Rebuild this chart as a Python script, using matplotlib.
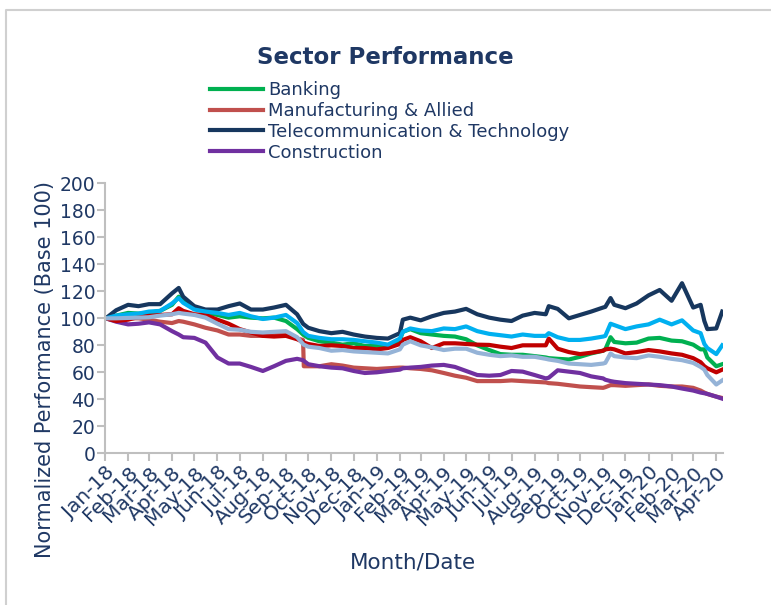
import numpy as np
import pandas as pd
import matplotlib
matplotlib.use("Agg")
import matplotlib.pyplot as plt
import matplotlib.dates as mdates
from matplotlib.lines import Line2D

# dates of the sampled points (roughly twice a month, plus a few key days)
dates = pd.to_datetime([
    "2018-01-02", "2018-01-16", "2018-02-01", "2018-02-15", "2018-03-01", "2018-03-16",
    "2018-04-01", "2018-04-10", "2018-04-16", "2018-05-01", "2018-05-16", "2018-06-01",
    "2018-06-16", "2018-07-01", "2018-07-16", "2018-08-01", "2018-08-16", "2018-09-01",
    "2018-09-16", "2018-09-24", "2018-09-25", "2018-10-01", "2018-10-16", "2018-11-01",
    "2018-11-16", "2018-12-01", "2018-12-16", "2019-01-01", "2019-01-16", "2019-02-01",
    "2019-02-05", "2019-02-15", "2019-03-01", "2019-03-16", "2019-04-01", "2019-04-16",
    "2019-05-01", "2019-05-16", "2019-06-01", "2019-06-16", "2019-07-01", "2019-07-16",
    "2019-08-01", "2019-08-16", "2019-08-20", "2019-09-01", "2019-09-16", "2019-10-01",
    "2019-10-16", "2019-11-01", "2019-11-04", "2019-11-11", "2019-11-16", "2019-12-01",
    "2019-12-16", "2020-01-01", "2020-01-16", "2020-02-01", "2020-02-15", "2020-03-01",
    "2020-03-11", "2020-03-16", "2020-03-20", "2020-04-01", "2020-04-09",
])

banking = [100, 102, 104, 103.5, 104, 105.5, 110, 116, 113.5, 108, 104.5, 102.5,
           100.5, 101.5, 100.5, 100, 100.5, 98, 92, 88, 87.5, 85.5, 83, 82,
           80.5, 81.5, 79.5, 79.5, 79, 84, 90, 92, 89, 88, 87, 86.5,
           84.5, 80, 76.5, 73.5, 73, 73, 72, 71, 70.5, 70, 69.5, 71.5,
           74, 76, 77, 86, 82.5, 81.5, 82, 85, 85.5, 83.5, 83, 80.5,
           77, 77, 71, 64.5, 66]
manufacturing = [100, 99.5, 100, 100, 99, 97.5, 96.5, 98, 97.5, 95.5, 93, 91,
                 88, 88, 87, 87, 88, 88, 85, 84, 64.5, 64.5, 64.5, 66,
                 65, 63.5, 63, 62.5, 63, 63.5, 63.5, 63, 62.5, 61.5, 59.5, 57.5,
                 56, 53.5, 53.5, 53.5, 54, 53.5, 53, 52.5, 52, 51.5, 50.5, 49.5,
                 49, 48.5, 49, 50.5, 50.5, 50, 50.5, 51, 50, 49.5, 49.5, 48.5,
                 46.5, 45, 44, 42, 41]
telecom = [100, 106, 110, 109, 110.5, 110.5, 118.5, 122.5, 116, 109, 106.5, 106.5,
           109, 111, 106.5, 106.5, 108, 110, 103, 96, 95.5, 93, 90.5, 89,
           90, 88, 86.5, 85.5, 85, 89, 99, 100.5, 98.5, 101.5, 104, 105,
           107, 103, 100.5, 99, 98, 102, 104, 103, 109, 107, 100, 102.5,
           105, 108, 108.5, 115, 110, 107.5, 111, 117, 121, 113, 126, 108,
           110, 98, 92, 92.5, 105]
construction = [100, 97.5, 95.5, 96, 97, 95.5, 90.5, 88, 86, 85.5, 82, 71,
                66.5, 66.5, 64, 61, 64.5, 68.5, 70, 69, 68.5, 66, 64.5, 63.5,
                63, 61, 59.5, 60, 61, 62, 63, 63.5, 64, 65, 65.5, 64,
                61, 58, 57.5, 58, 61, 60.5, 58, 55.5, 56, 61.5, 60.5, 59.5,
                57, 55.5, 54.5, 53.5, 53, 52, 51.5, 51, 50.5, 49.5, 48, 46.5,
                45, 44.5, 44, 42, 40.5]
# unlabelled series
dark_red = [100, 98, 99, 101, 102, 102.5, 103, 107.5, 105.5, 103, 102.5, 99,
            96, 92, 89.5, 87, 86.5, 87, 84.5, 82.5, 82, 81, 79.5, 80,
            79.5, 78, 78, 77, 78, 81, 84, 86, 83, 78, 81.5, 81.5,
            81, 80.5, 80.3, 79, 78, 80, 80, 80, 85, 77.5, 75, 73.5,
            74.5, 76, 77, 77.5, 77, 74, 75, 76.5, 75.5, 74, 73, 70.5,
            67.5, 64.5, 63, 60, 62]
light_blue = [100, 102, 103, 103.5, 105, 105.5, 111, 115, 111.5, 106.5, 105, 104,
              102.5, 104, 101.5, 99.5, 100.5, 102.5, 96.5, 90, 89.5, 87, 85.5, 84.5,
              84.5, 84, 83, 82, 80.5, 85, 90, 92.5, 91, 90.5, 92.5, 92,
              94, 90.5, 88.5, 87.5, 86.5, 88, 87, 87, 89, 86, 84, 84,
              85, 86.5, 87, 96, 95, 92, 94, 95.5, 99, 95.5, 98.5, 91,
              89, 81, 78, 73.5, 80]
steel_blue = [100, 100, 100.3, 100.5, 100.8, 102, 103, 104, 103.5, 102.5, 100.5, 96,
              92, 91.5, 90, 89.5, 90, 90.5, 86, 81, 80.5, 79, 78, 76,
              76.5, 75.5, 75, 74.5, 74, 77, 80.5, 83, 80, 78.5, 76.5, 77.5,
              77.5, 74.5, 73, 72, 72.5, 71.5, 71.5, 70, 69.5, 68.5, 66.5, 66,
              65.5, 66.5, 67, 74, 72, 71, 70.5, 72.5, 71.5, 70, 69, 67,
              64, 62, 58, 51, 54]

tick_months = pd.date_range("2018-01-01", "2020-04-01", freq="MS")
tick_labels = [d.strftime("%b-%y") for d in tick_months]

navy = "#1F3864"
grey = "#BFBFBF"

fig = plt.figure(figsize=(7.71, 6.05), dpi=100)
ax = fig.add_axes([0.1362, 0.2507, 0.9377 - 0.1362, 0.697 - 0.2507])

lw = 3.0
ax.plot(dates, banking, color="#00B050", lw=lw)
ax.plot(dates, manufacturing, color="#C0504D", lw=lw)
ax.plot(dates, telecom, color="#17375E", lw=lw)
ax.plot(dates, construction, color="#7030A0", lw=lw)
ax.plot(dates, dark_red, color="#C00000", lw=lw)
ax.plot(dates, light_blue, color="#00B0F0", lw=lw)
ax.plot(dates, steel_blue, color="#95B3D7", lw=lw)

ax.set_ylim(0, 200)
ax.set_yticks(range(0, 201, 20))
ax.set_xlim(pd.Timestamp("2018-01-01"), pd.Timestamp("2020-04-10"))
ax.set_xticks(tick_months)
ax.set_xticklabels(tick_labels, rotation=45, ha="right", va="top",
                   rotation_mode="anchor")

for s in ["top", "right"]:
    ax.spines[s].set_visible(False)
for s in ["left", "bottom"]:
    ax.spines[s].set_color(grey)
    ax.spines[s].set_linewidth(1.5)
ax.tick_params(axis="both", colors=grey, width=1.5, length=6, direction="out")
ax.tick_params(axis="y", labelcolor=navy, labelsize=13.5, pad=1)
ax.tick_params(axis="x", labelcolor=navy, labelsize=14.5, pad=1)

# title, legend and axis titles
fig.text(0.5, 1 - 58 / 605, "Sector Performance", ha="center", va="center",
         fontsize=16.5, fontweight="bold", color=navy)
handles = [Line2D([], [], color=c, lw=3.0) for c in
           ["#00B050", "#C0504D", "#17375E", "#7030A0"]]
names = ["Banking", "Manufacturing & Allied",
         "Telecommunication & Technology", "Construction"]
fig.legend(handles, names, loc="upper left",
           bbox_to_anchor=(210 / 771, 1 - 81 / 605), frameon=False,
           fontsize=13, labelcolor=navy, handlelength=2.93, handletextpad=0.28,
           labelspacing=0.16, borderpad=0, borderaxespad=0)
fig.text(45 / 771, 1 - 370 / 605, "Normalized Performance (Base 100)",
         rotation=90, ha="center", va="center", fontsize=15, color=navy)
fig.text(413 / 771, 1 - 562 / 605, "Month/Date", ha="center", va="center",
         fontsize=15.5, color=navy)

# chart area border (top and left edges visible)
fig.add_artist(Line2D([6 / 771, 6 / 771, 1], [0, 1 - 9.5 / 605, 1 - 9.5 / 605],
                      transform=fig.transFigure, color="#D0D0D0", lw=1.5))

fig.savefig("out.png", dpi=100)
